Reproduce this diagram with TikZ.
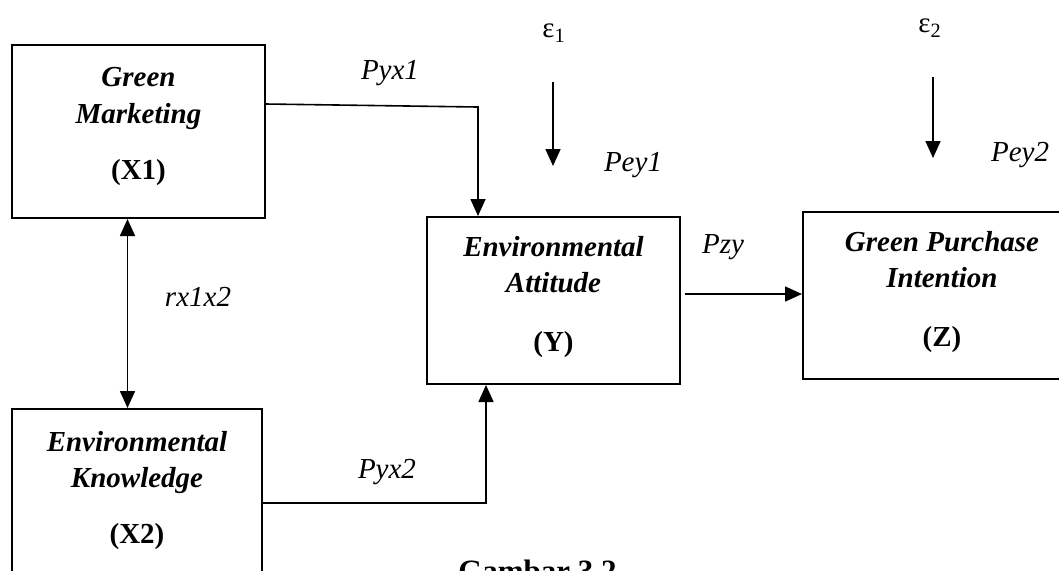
\documentclass[tikz,border=0pt]{standalone}
\usepackage{fontspec}
\setmainfont{Liberation Serif}
\usetikzlibrary{arrows.meta,calc,positioning}

\begin{document}
\begin{tikzpicture}[>={Triangle[length=8.5pt,width=7.5pt]},x=0.5pt,y=-0.5pt,
  var/.style={draw,line width=1pt,inner sep=0pt,align=center,
    font=\fontsize{14.5}{18}\selectfont\bfseries\itshape},
  lbl/.style={font=\fontsize{14.5}{18}\selectfont\itshape,inner sep=0pt},
  eps/.style={font=\fontsize{14.5}{18}\selectfont,inner sep=0pt},
  link/.style={->,line width=0.8pt}]
  \clip (0,0) rectangle (1059,570);
  % variables
  \node[var,minimum width=126.5pt,minimum height=86.5pt,text depth=8pt] (X1) at (138.5,131.5)
    {Green\\[0.5pt]Marketing\\[10pt]{\upshape (X1)}};
  \node[var,minimum width=125pt,minimum height=92.5pt,text depth=14pt] (X2) at (137,501.5)
    {Environmental\\Knowledge\\[10pt]{\upshape (X2)}};
  \node[var,minimum width=126.5pt,minimum height=83.5pt,text depth=7pt] (Y) at (553.5,300.5)
    {Environmental\\Attitude\\[11.5pt]{\upshape (Y)}};
  \node[var,minimum width=139pt,minimum height=83.5pt,text depth=7pt] (Z) at (942,295.5)
    {Green Purchase\\Intention\\[11.5pt]{\upshape (Z)}};
  % paths
  \coordinate (k1) at (478,107);
  \draw[link] ($(X1.east)+(0,-27.5)$) -- (k1) -- (k1 |- Y.north);
  \draw[link] ($(X2.north east)+(0,95)$) -| ($(Y.south west)+(60,0)$);
  \draw[link] ($(Y.east |- Z.west)+(4,-1.5)$) -- ($(Z.west)+(0,-1.5)$);
  \coordinate (r1) at ($(X1.south)+(-11,0)$);
  \draw[link,<->] (r1) -- (r1 |- X2.north);
  % residuals
  \node[eps] (e1) at (554,33) {ε\textsubscript{1}};
  \node[eps] (e2) at (930,28) {ε\textsubscript{2}};
  \coordinate (e1a) at (553,82);  \coordinate (e1b) at (553,166);
  \coordinate (e2a) at (933,77);  \coordinate (e2b) at (933,158);
  \draw[link] (e1a) -- (e1b);
  \draw[link] (e2a) -- (e2b);
  % coefficients
  \node[lbl] (pyx1) at (390,73) {Pyx1};
  \node[lbl] (pyx2) at (387,472) {Pyx2};
  \node[lbl] (rx) at (198,297) {rx1x2};
  \node[lbl] (pzy) at (723,247) {Pzy};
  \node[lbl] (pey1) at (633,165) {Pey1};
  \node[lbl] (pey2) at (1020,155) {Pey2};
  \node[anchor=base,inner sep=0pt,font=\fontsize{15.5}{18}\selectfont\bfseries] (cap) at (537.5,581) {Gambar 3.2};
\end{tikzpicture}
\end{document}
